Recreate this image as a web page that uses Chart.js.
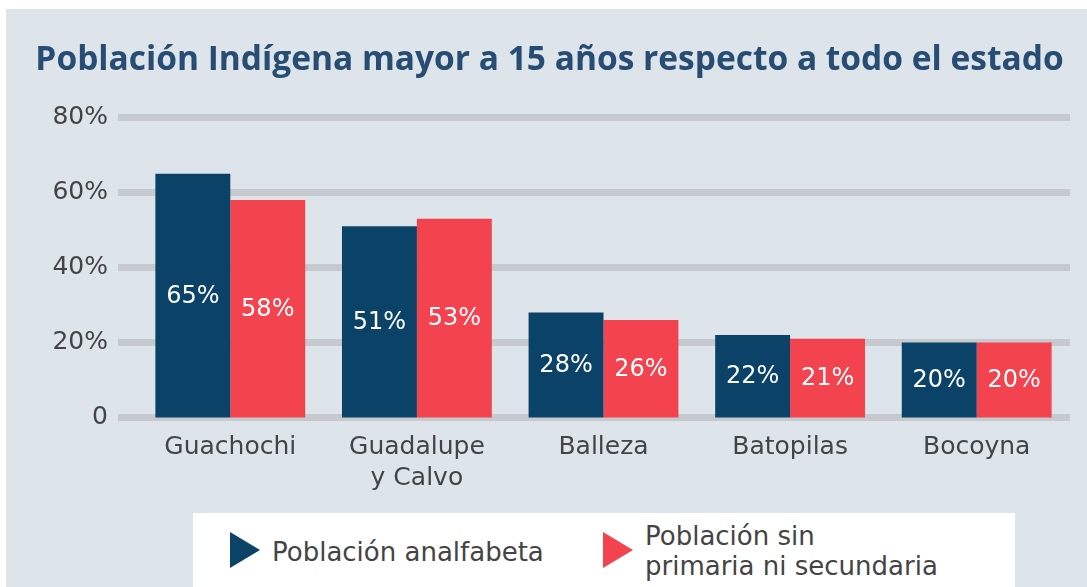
<!DOCTYPE html>
<html lang="es">
<head>
<meta charset="utf-8">
<title>Población Indígena mayor a 15 años</title>
<script src="https://cdn.jsdelivr.net/npm/chart.js@4.4.1/dist/chart.umd.min.js"></script>
<style>
  html, body { margin: 0; padding: 0; background: #fff; }
  body { width: 1087px; height: 587px; position: relative; overflow: hidden; }
  .panel { position: absolute; left: 6px; top: 9px; width: 1081px; height: 578px; background: #dde4ea; }
  .chart-title { position: absolute; left: 0; top: 28px; width: 1087px; margin: 0; text-align: center;
    font-family: "Open Sans", sans-serif; font-weight: 700; font-size: 33.5px; line-height: 40px;
    color: #284d74; white-space: nowrap; }
  .chart-box { position: absolute; left: 0; top: 0; width: 1081px; height: 578px; }
  .legend { position: absolute; left: 187px; top: 504px; width: 822px; height: 80px; background: #fff;
    font-family: "DejaVu Sans", sans-serif; font-size: 26px; color: #444; }
  .legend__item { position: absolute; top: 0; }
  .legend__mark { position: absolute; top: 19px; left: 0; width: 0; height: 0;
    border-top: 18.5px solid transparent; border-bottom: 18.5px solid transparent; border-left: 30px solid; }
  .legend__text { position: absolute; left: 42px; line-height: 30px; white-space: nowrap; }
</style>
</head>
<body>
<div class="panel">
  <div class="chart-box"><canvas id="chart"></canvas></div>
  <h1 class="chart-title" id="title"></h1>
  <div class="legend" id="legend"></div>
</div>
<script>
const title = "Población Indígena mayor a 15 años respecto a todo el estado";
const categories = ["Guachochi", ["Guadalupe", "y Calvo"], "Balleza", "Batopilas", "Bocoyna"];
const seriesNames = [["Población analfabeta"], ["Población sin", "primaria ni secundaria"]];
const analfabeta = [65, 51, 28, 22, 20];
const sinPrimaria = [58, 53, 26, 21, 20];
const yTickLabels = ["0", "20%", "40%", "60%", "80%"];

const NAVY = "#0a4268";
const RED = "#f2434f";
const TEXT = "#444444";

document.getElementById("title").textContent = title;

// white value text in the middle of every bar
const barValues = {
  id: "barValues",
  afterDatasetsDraw(chart) {
    const ctx = chart.ctx;
    ctx.save();
    ctx.fillStyle = "#fff";
    ctx.font = '24px "DejaVu Sans", sans-serif';
    ctx.textAlign = "center";
    ctx.textBaseline = "middle";
    chart.data.datasets.forEach((ds, i) => {
      chart.getDatasetMeta(i).data.forEach((bar, j) => {
        ctx.fillText(`${ds.data[j]}%`, bar.x, (bar.y + bar.base) / 2);
      });
    });
    ctx.restore();
  },
};

const chart = new Chart(document.getElementById("chart"), {
  type: "bar",
  data: {
    labels: categories,
    datasets: [
      { label: seriesNames[0].join(" "), data: analfabeta, backgroundColor: NAVY },
      { label: seriesNames[1].join(" "), data: sinPrimaria, backgroundColor: RED },
    ].map((d) => ({ ...d, base: -0.5, categoryPercentage: 0.803, barPercentage: 1 })),
  },
  options: {
    responsive: true,
    maintainAspectRatio: false,
    animation: false,
    layout: { padding: { left: 0, right: 17, top: 108.5, bottom: 0 } },
    plugins: {
      legend: { display: false },
      tooltip: { enabled: false },
      title: { display: false },
    },
    scales: {
      x: {
        grid: { display: false },
        border: { display: false },
        ticks: { color: TEXT, padding: 6, font: { family: "DejaVu Sans", size: 25, lineHeight: 1.24 } },
        afterFit: (s) => { s.height = 169.5; },
      },
      y: {
        min: 0,
        max: 80,
        border: { display: false },
        grid: { color: "#c6c9ce", lineWidth: 7, tickLength: 19, drawTicks: true },
        ticks: {
          stepSize: 20,
          padding: 10,
          color: TEXT,
          font: { family: "DejaVu Sans", size: 25 },
          callback: (v, i) => yTickLabels[i],
        },
        afterFit: (s) => { s.width = 131; },
      },
    },
  },
  plugins: [barValues],
});

// html legend, built from the datasets
const legendEl = document.getElementById("legend");
const legendLeft = [37, 410];
const legendTextTop = [24, 8];
chart.data.datasets.forEach((ds, i) => {
  const item = document.createElement("div");
  item.className = "legend__item";
  item.style.left = `${legendLeft[i]}px`;
  item.innerHTML = `<span class="legend__mark" style="border-left-color:${ds.backgroundColor}"></span>` +
    `<span class="legend__text" style="top:${legendTextTop[i]}px">${seriesNames[i].join("<br>")}</span>`;
  legendEl.appendChild(item);
});
</script>
</body>
</html>
